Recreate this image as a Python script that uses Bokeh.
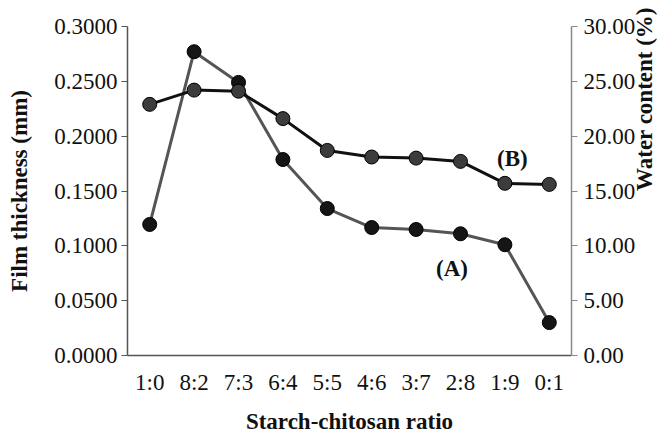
import math
from bokeh.plotting import figure
from bokeh.models import Range1d, LinearAxis, NumeralTickFormatter, FixedTicker, Label
from bokeh.embed import file_html
from bokeh.resources import INLINE

ratios = ["1:0", "8:2", "7:3", "6:4", "5:5", "4:6", "3:7", "2:8", "1:9", "0:1"]
thickness_A = [0.1195, 0.277, 0.249, 0.1787, 0.134, 0.1167, 0.1149, 0.111, 0.101, 0.030]
water_B = [22.9, 24.2, 24.1, 21.6, 18.7, 18.1, 18.0, 17.7, 15.7, 15.6]

FONT = "Liberation Serif"

p = figure(x_range=ratios, y_range=Range1d(0, 0.3),
           frame_width=444, frame_height=329,
           min_border_left=127, min_border_right=95, min_border_top=26, min_border_bottom=74,
           output_backend="svg", toolbar_location=None)
p.outline_line_color = None
p.xgrid.grid_line_color = None
p.ygrid.grid_line_color = None
p.extra_y_ranges = {"water": Range1d(0, 30)}

# Series A: film thickness (left axis)
p.line(ratios, thickness_A, line_color="#555555", line_width=3)
p.scatter(ratios, thickness_A, size=14, fill_color="#151515", line_color="#000000", line_width=1)

# Series B: water content (right axis)
p.line(ratios, water_B, line_color="#111111", line_width=3, y_range_name="water")
p.scatter(ratios, water_B, size=14, fill_color="#3c3c3c", line_color="#000000", line_width=1,
          y_range_name="water")

# Left axis
ya = p.yaxis[0]
ya.ticker = FixedTicker(ticks=[0, 0.05, 0.1, 0.15, 0.2, 0.25, 0.3])
ya.formatter = NumeralTickFormatter(format="0.0000")
ya.axis_label = "Film thickness (mm)"

# Right axis
ry = LinearAxis(y_range_name="water", axis_label="Water content (%)")
ry.ticker = FixedTicker(ticks=[0, 5, 10, 15, 20, 25, 30])
ry.formatter = NumeralTickFormatter(format="0.00")
p.add_layout(ry, "right")

xa = p.xaxis[0]
xa.axis_label = "Starch-chitosan ratio"

for ax in [ya, ry]:
    ax.major_tick_out = 6
    ax.major_tick_in = 0
    ax.minor_tick_line_color = None
    ax.axis_line_color = "#888888"
    ax.major_tick_line_color = "#888888"
    ax.axis_line_width = 1.5
ya.major_label_standoff = 4
ry.major_label_standoff = 6
ya.axis_line_color = "#555555"
ya.major_tick_line_color = "#555555"
ry.axis_label_orientation = math.pi / 2

xa.axis_line_color = "#555555"
xa.axis_line_width = 1.5
xa.major_tick_line_color = None
xa.minor_tick_line_color = None
xa.major_label_standoff = 8
xa.axis_label_standoff = 11

for ax in [ya, ry, xa]:
    ax.major_label_text_font = FONT
    ax.major_label_text_font_size = "23px"
    ax.major_label_text_color = "#111111"
    ax.axis_label_text_font = FONT
    ax.axis_label_text_font_size = "23px"
    ax.axis_label_text_font_style = "bold"
    ax.axis_label_text_color = "#111111"
ya.axis_label_standoff = 19
ry.axis_label_standoff = 6

p.add_layout(Label(x=7.31, y=0.0793, text="(A)", text_font=FONT, text_font_size="23px",
                   text_font_style="bold", text_color="#111111", text_align="center",
                   text_baseline="middle"))
p.add_layout(Label(x=8.67, y=0.1796, text="(B)", text_font=FONT, text_font_size="23px",
                   text_font_style="bold", text_color="#111111", text_align="center",
                   text_baseline="middle"))

open("out.html", "w").write(file_html(p, INLINE))
